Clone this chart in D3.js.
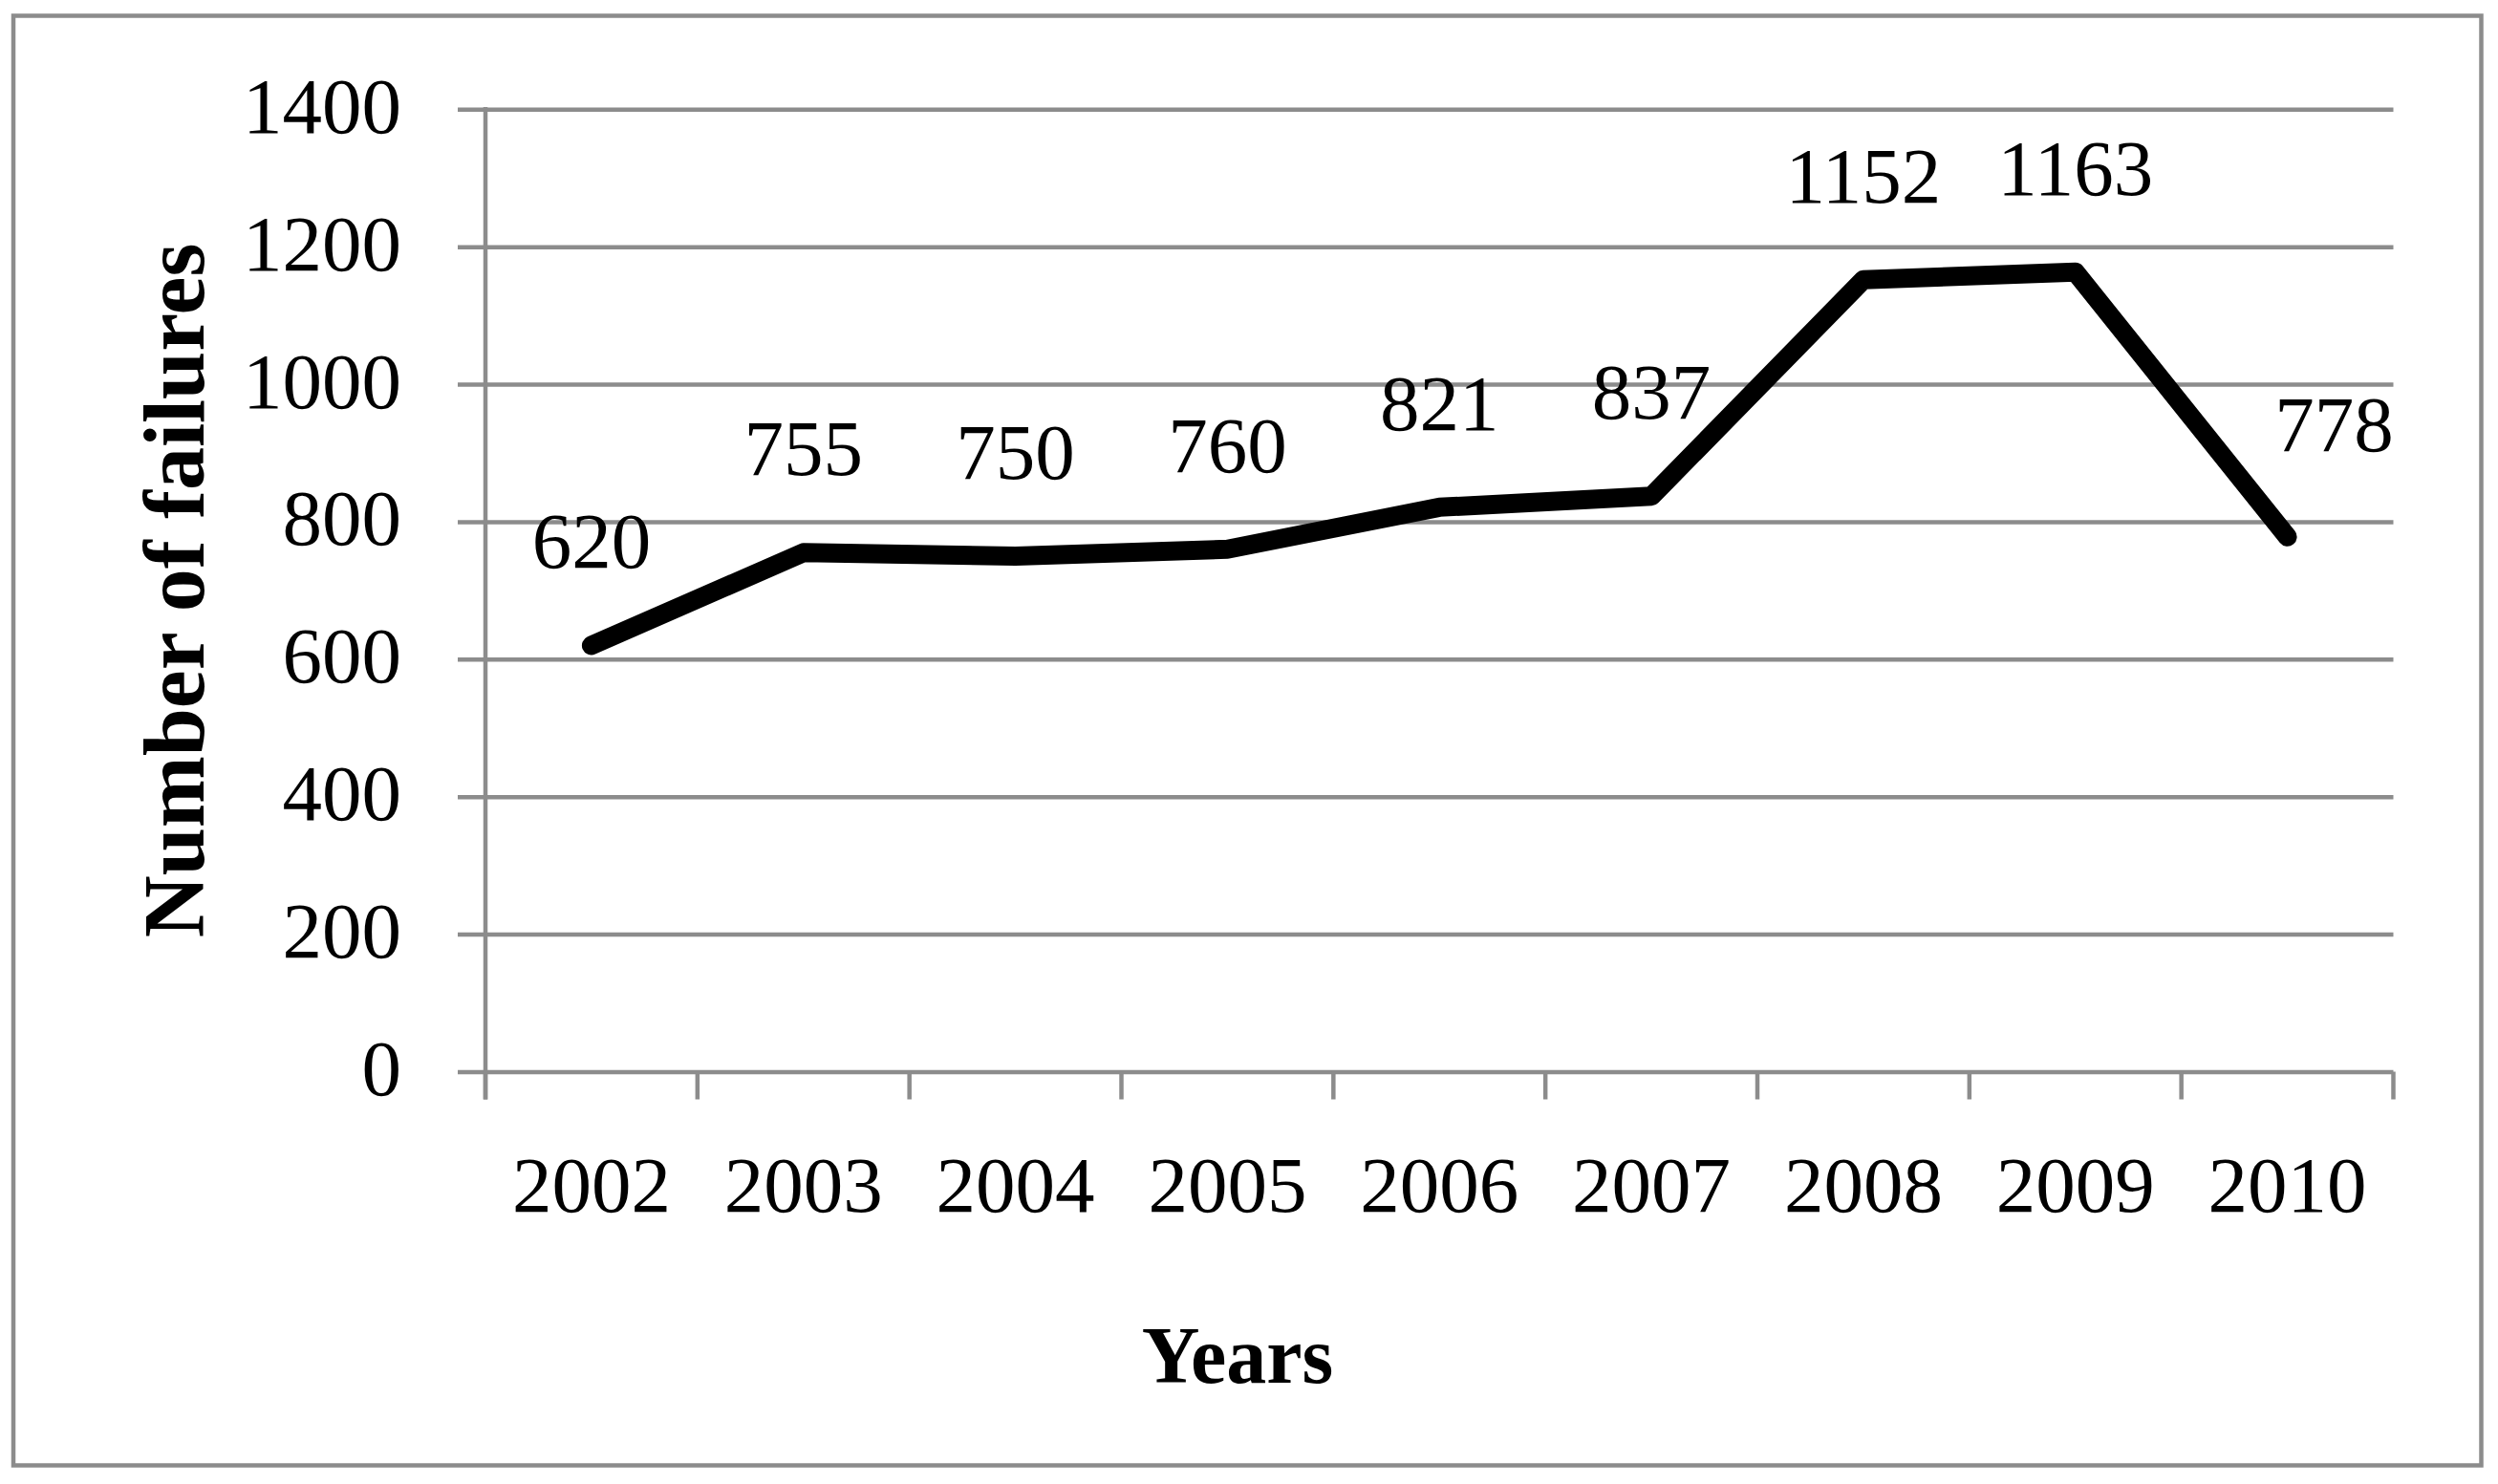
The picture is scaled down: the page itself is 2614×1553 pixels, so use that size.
<!DOCTYPE html>
<html>
<head>
<meta charset="utf-8">
<script src="https://cdn.jsdelivr.net/npm/d3@7"></script>
<style>
  html, body { margin: 0; padding: 0; background: #fff; }
  svg { display: block; }
</style>
</head>
<body>
<svg id="chart" width="2614" height="1553"></svg>
<script>
const years = ["2002","2003","2004","2005","2006","2007","2008","2009","2010"];
const failures = [620, 755, 750, 760, 821, 837, 1152, 1163, 778];
const yTickValues = [0, 200, 400, 600, 800, 1000, 1200, 1400];
const yTitle = "Number of failures";
const xTitle = "Years";

const W = 2614, H = 1553;
const grey = "#8c8c8c";
const font = "'Liberation Serif', 'Times New Roman', serif";
const plotLeft = 508, plotRight = 2504.5, plotTop = 114.3, plotBottom = 1121.5;
const tickLen = 29;

const svg = d3.select("#chart");
svg.append("rect").attr("width", W).attr("height", H).attr("fill", "#fff");

// outer border
svg.append("rect")
  .attr("x", 14).attr("y", 16.5)
  .attr("width", 2596.5 - 14).attr("height", 1533.5 - 16.5)
  .attr("fill", "none").attr("stroke", grey).attr("stroke-width", 4.5);

const x = d3.scaleBand().domain(years).range([plotLeft, plotRight]).padding(0);
const y = d3.scaleLinear().domain([0, 1400]).range([plotBottom, plotTop]);

// y axis with gridlines
const yAxis = d3.axisLeft(y)
  .tickValues(yTickValues)
  .tickSize(-(plotRight - (plotLeft - tickLen)))
  .tickPadding(59)
  .tickFormat(d3.format("d"));
const gy = svg.append("g")
  .attr("transform", `translate(${plotLeft - tickLen},0)`)
  .call(yAxis);
gy.select(".domain").remove();
gy.selectAll(".tick line").attr("stroke", grey).attr("stroke-width", 4.5);
gy.selectAll(".tick text")
  .attr("font-family", font).attr("font-size", 83).attr("fill", "#000")
  .attr("dy", null).attr("y", 24);

// y axis vertical line
svg.append("line")
  .attr("x1", plotLeft).attr("x2", plotLeft)
  .attr("y1", plotTop - 2.25).attr("y2", plotBottom + tickLen)
  .attr("stroke", grey).attr("stroke-width", 4.5);

// x axis category boundary ticks
const boundaries = years.map(d => x(d)).concat([x(years[years.length - 1]) + x.bandwidth()]);
svg.append("g").selectAll("line").data(boundaries).join("line")
  .attr("x1", d => d).attr("x2", d => d)
  .attr("y1", plotBottom).attr("y2", plotBottom + tickLen)
  .attr("stroke", grey).attr("stroke-width", 4.5);

// x axis labels
const xAxis = d3.axisBottom(x).tickSize(0).tickPadding(0);
const gx = svg.append("g")
  .attr("transform", `translate(0,${plotBottom})`)
  .call(xAxis);
gx.select(".domain").remove();
gx.selectAll(".tick text")
  .attr("font-family", font).attr("font-size", 83).attr("fill", "#000")
  .attr("dy", null).attr("y", 1268 - plotBottom);

// line
const pts = years.map((d, i) => [x(d) + x.bandwidth() / 2, y(failures[i])]);
svg.append("path")
  .attr("d", d3.line()(pts))
  .attr("fill", "none").attr("stroke", "#000")
  .attr("stroke-width", 20)
  .attr("stroke-linejoin", "round").attr("stroke-linecap", "round");

// data labels
svg.append("g").selectAll("text").data(years).join("text")
  .attr("x", (d, i) => x(d) + x.bandwidth() / 2 + (i === years.length - 1 ? 49 : 0))
  .attr("y", (d, i) => y(failures[i]) - 81 - (i === years.length - 1 ? 9 : 0))
  .attr("text-anchor", "middle")
  .attr("font-family", font).attr("font-size", 83).attr("fill", "#000")
  .text((d, i) => failures[i]);

// axis titles
svg.append("text")
  .attr("transform", `translate(213,${(plotTop + plotBottom) / 2 + 0}) rotate(-90)`)
  .attr("text-anchor", "middle")
  .attr("font-family", font).attr("font-weight", "bold").attr("font-size", 90).attr("fill", "#000")
  .text(yTitle);

svg.append("text")
  .attr("x", 1295).attr("y", 1447)
  .attr("text-anchor", "middle")
  .attr("font-family", font).attr("font-weight", "bold").attr("font-size", 84).attr("fill", "#000")
  .text(xTitle);
</script>
</body>
</html>
